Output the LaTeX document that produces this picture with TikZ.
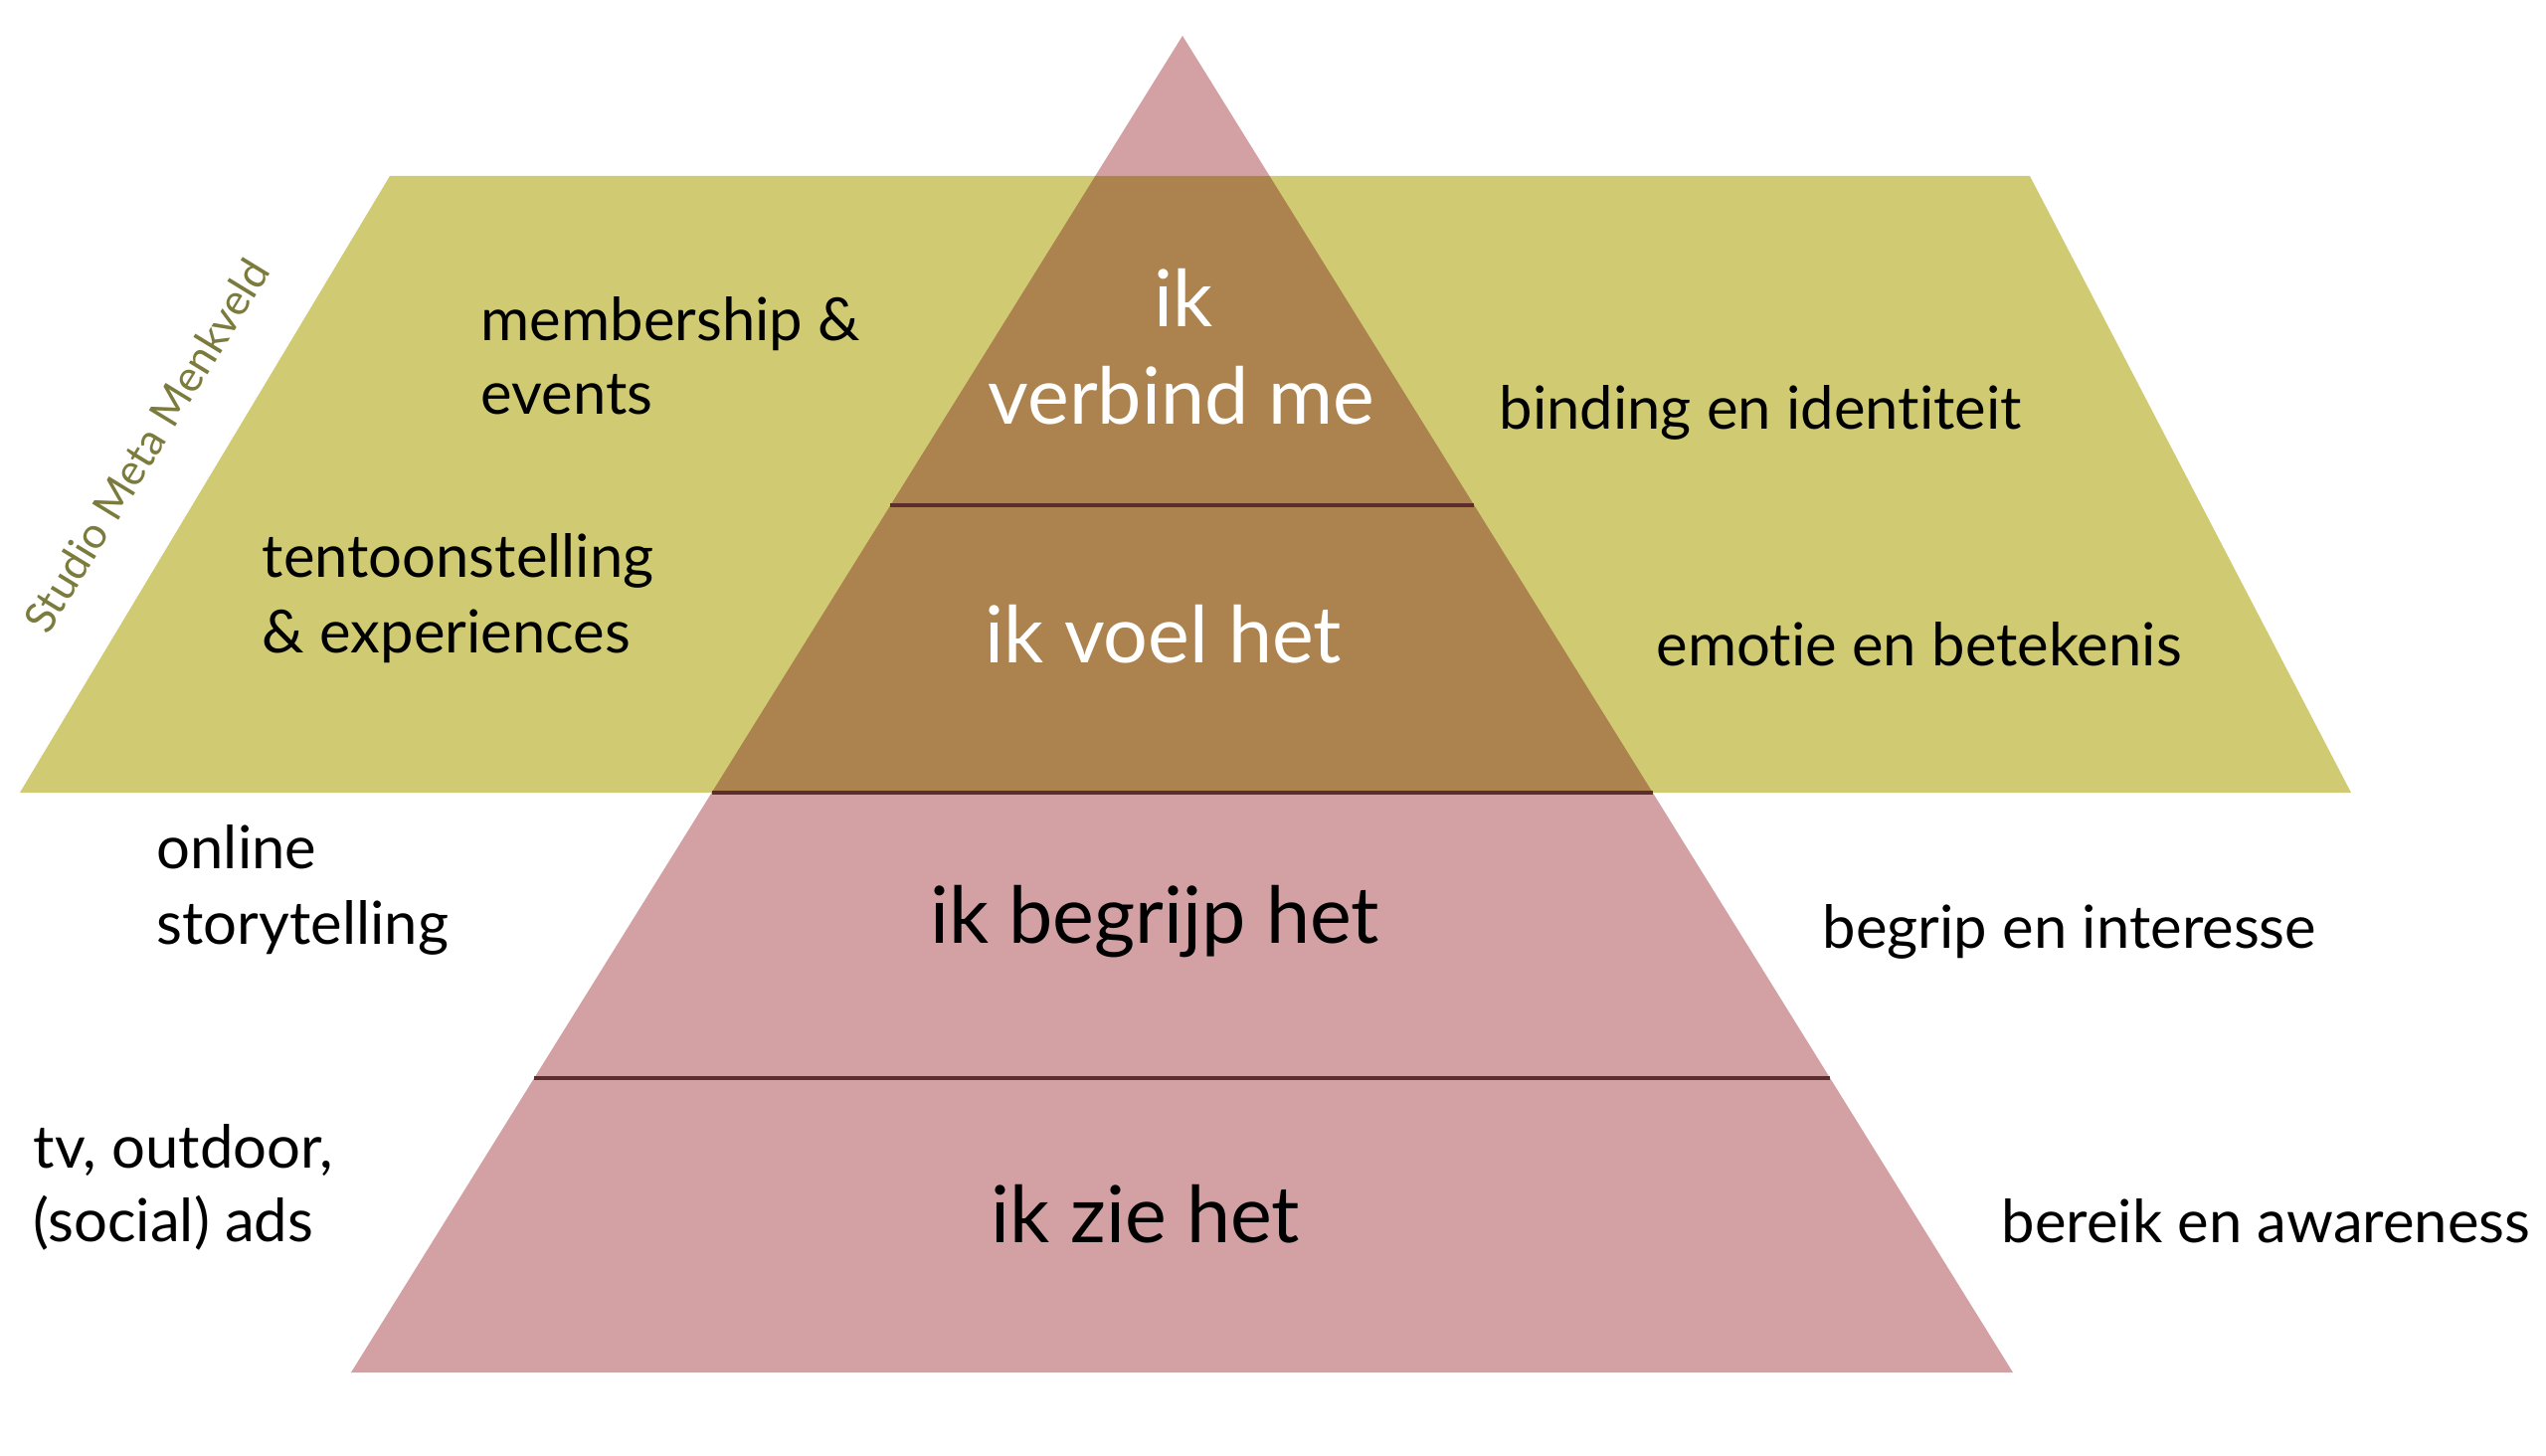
\documentclass[tikz,border=0pt]{standalone}
\usepackage{fontspec}
\setmainfont{Lato}[Ligatures=NoCommon]
\usetikzlibrary{calc}

\definecolor{pyrpink}{HTML}{D3A1A4}
\definecolor{bandolive}{HTML}{D0CB72}
\definecolor{overlapbrown}{HTML}{AC834E}
\definecolor{layerline}{HTML}{5C2D2D}
\definecolor{signolive}{HTML}{7A7B3C}

\begin{document}
\begin{tikzpicture}[
    levellabel/.style={anchor=base, inner sep=0pt, font=\fontsize{22.5}{27}\selectfont},
    goallabel/.style={anchor=base west, inner sep=0pt, font=\fontsize{17}{21}\selectfont},
    channellabel/.style={anchor=base west, inner sep=0pt, font=\fontsize{17}{21}\selectfont},
    divider/.style={layerline, line width=1pt}
]
\useasboundingbox (0,0) rectangle (25.6,14.63);

% corners of the pyramid and of the band
\coordinate (apex) at (11.89,14.27);
\coordinate (bl) at (3.53,0.83);
\coordinate (br) at (20.24,0.83);
\coordinate (tl) at (3.92,12.86);
\coordinate (tr) at (20.41,12.86);
\coordinate (ql) at (0.20,6.66);
\coordinate (qr) at (23.64,6.66);

\fill[pyrpink] (apex) -- (bl) -- (br) -- cycle;
\fill[bandolive] (tl) -- (tr) -- (qr) -- (ql) -- cycle;
\begin{scope}
    \clip (apex) -- (bl) -- (br) -- cycle;
    \fill[overlapbrown] (tl) -- (tr) -- (qr) -- (ql) -- cycle;
\end{scope}

% layer lines
\draw[divider] ($(apex)!0.3512!(bl)$) -- ($(apex)!0.3512!(br)$);
\draw[divider] ($(apex)!0.5662!(bl)$) -- ($(apex)!0.5662!(br)$);
\draw[divider] ($(apex)!0.7798!(bl)$) -- ($(apex)!0.7798!(br)$);

% levels
\node[levellabel, white] (connect1) at (11.90,11.34) {ik};
\node[levellabel, white] (connect2) at (11.88,10.36) {verbind me};
\node[levellabel, white] (feel) at (11.70,7.96) {ik voel het};
\node[levellabel] (understand) at (11.61,5.14) {ik begrijp het};
\node[levellabel] (see) at (11.52,2.13) {ik zie het};

% goals
\node[goallabel] (binding) at (15.07,10.31) {binding en identiteit};
\node[goallabel] (emotion) at (16.65,7.93) {emotie en betekenis};
\node[goallabel] (interest) at (18.32,5.09) {begrip en interesse};
\node[goallabel] (reach) at (20.12,2.13) {bereik en awareness};

% channels
\node[channellabel] (member1) at (4.83,11.20) {membership \&};
\node[channellabel] (member2) at (4.83,10.46) {events};
\node[channellabel] (expo1) at (2.63,8.82) {tentoonstelling};
\node[channellabel] (expo2) at (2.63,8.06) {\& experiences};
\node[channellabel] (online1) at (1.57,5.89) {online};
\node[channellabel] (online2) at (1.57,5.13) {storytelling};
\node[channellabel] (ads1) at (0.33,2.88) {tv, outdoor,};
\node[channellabel] (ads2) at (0.33,2.15) {(social) ads};

\node[signolive, rotate=58.5, inner sep=0pt, font=\fontsize{12.3}{15}\selectfont] (studio) at (1.47,10.15) {Studio Meta Menkveld};
\end{tikzpicture}
\end{document}
